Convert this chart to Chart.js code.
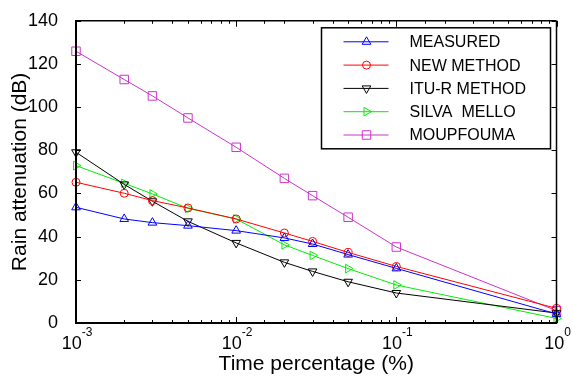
<!DOCTYPE html>
<html><head><meta charset="utf-8">
<script src="https://cdn.jsdelivr.net/npm/chart.js"></script>
<style>html,body{margin:0;padding:0;background:#fff}#wrap{width:572px;height:381px}</style>
</head><body><div id="wrap"><canvas id="c" width="572" height="381"></canvas></div>
<script>
// ---- data ----
const timePct    = [0.001, 0.002, 0.003, 0.005, 0.01, 0.02, 0.03, 0.05, 0.1, 1];
const measured   = [53.6, 48.2, 46.5, 45.1, 42.8, 39.4, 36.6, 31.7, 25.3, 4.2];
const newMethod  = [65.2, 60.1, 56.7, 53.3, 48.2, 41.7, 37.8, 32.7, 26.2, 6.8];
const ituR       = [79.1, 64.2, 56.4, 47.1, 37.1, 28.1, 23.9, 19.1, 13.9, 4.6];
const silvaMello = [72.9, 64.7, 59.8, 53.1, 48.2, 36.2, 31.3, 25.2, 17.6, 2.1];
const moupfouma  = [125.9, 112.8, 105.2, 95.0, 81.4, 67.0, 59.0, 49.0, 35.2, 5.7];
const seriesNames = ['MEASURED', 'NEW METHOD', 'ITU-R METHOD', 'SILVA  MELLO', 'MOUPFOUMA'];
const yMin = 0, yMax = 140, yStep = 20;
const xMin = 0.001, xMax = 1;
const xTitle = 'Time percentage (%)';
const yTitle = 'Rain attenuation (dB)';

const FAM = '"Liberation Sans", Arial, Helvetica, sans-serif';
const styles = [
  {color: '#0000ff', pointStyle: 'triangle', rotation: 0,   radius: 5},
  {color: '#ff0000', pointStyle: 'circle',   rotation: 0,   radius: 4},
  {color: '#000000', pointStyle: 'triangle', rotation: 180, radius: 5},
  {color: '#00ee00', pointStyle: 'triangle', rotation: 90,  radius: 5},
  {color: '#cc33cc', pointStyle: 'rect',     rotation: 0,   radius: 6}
];
const seriesValues = [measured, newMethod, ituR, silvaMello, moupfouma];

const datasets = seriesValues.map((vals, i) => ({
  label: seriesNames[i],
  data: timePct.map((x, j) => ({x: x, y: vals[j]})),
  borderColor: styles[i].color,
  backgroundColor: styles[i].color,
  borderWidth: 1,
  pointStyle: styles[i].pointStyle,
  pointRotation: styles[i].rotation,
  pointRadius: styles[i].radius,
  pointBorderWidth: 1,
  pointBorderColor: styles[i].color,
  pointBackgroundColor: 'rgba(0,0,0,0)',
  tension: 0,
  clip: false
}));

function drawMarker(ctx, style, x, y) {
  const r = style.radius;
  ctx.beginPath();
  if (style.pointStyle === 'circle') {
    ctx.arc(x, y, r, 0, Math.PI * 2);
  } else if (style.pointStyle === 'rect') {
    const s = r * Math.SQRT1_2;
    ctx.rect(x - s, y - s, 2 * s, 2 * s);
  } else {
    let rad = style.rotation * Math.PI / 180;
    for (let k = 0; k < 3; k++) {
      const px = x + Math.sin(rad) * r, py = y - Math.cos(rad) * r;
      if (k === 0) ctx.moveTo(px, py); else ctx.lineTo(px, py);
      rad += 2 * Math.PI / 3;
    }
    ctx.closePath();
  }
  ctx.strokeStyle = style.color;
  ctx.lineWidth = 1;
  ctx.stroke();
}

function seg(ctx, x1, y1, x2, y2) {
  ctx.beginPath(); ctx.moveTo(x1, y1); ctx.lineTo(x2, y2); ctx.stroke();
}

const framePlugin = {
  id: 'frame',
  afterDraw(chart) {
    const ctx = chart.ctx, a = chart.chartArea, xs = chart.scales.x, ys = chart.scales.y;
    ctx.save();
    ctx.strokeStyle = '#000';
    ctx.lineWidth = 1;
    // y ticks (inward, both sides)
    ys.ticks.forEach(t => {
      const py = Math.round(ys.getPixelForValue(t.value)) + 0.5;
      seg(ctx, a.left, py, a.left + 5, py);
      seg(ctx, a.right, py, a.right - 5, py);
    });
    // x ticks (inward, top and bottom)
    xs.ticks.forEach(t => {
      const v = t.value;
      const lg = Math.log10(v);
      const major = Math.abs(lg - Math.round(lg)) < 1e-6;
      const px = Math.round(xs.getPixelForValue(v)) + 0.5;
      const L = major ? 6 : 3;
      seg(ctx, px, a.bottom, px, a.bottom - L);
      seg(ctx, px, a.top, px, a.top + L);
    });
    // frame
    ctx.lineWidth = 1.5;
    seg(ctx, a.left, a.top, a.right, a.top);
    seg(ctx, a.right, a.top, a.right, a.bottom);
    ctx.lineWidth = 2;
    seg(ctx, a.left, a.top - 0.75, a.left, a.bottom + 1);
    seg(ctx, a.left - 1, a.bottom, a.right + 0.75, a.bottom);

    // x tick labels 10^n
    ctx.fillStyle = '#000';
    ctx.textBaseline = 'alphabetic';
    ctx.textAlign = 'left';
    xs.ticks.forEach(t => {
      const v = t.value;
      const lg = Math.log10(v);
      if (Math.abs(lg - Math.round(lg)) >= 1e-6) return;
      const e = String(Math.round(lg));
      const px = xs.getPixelForValue(v);
      ctx.font = '18px ' + FAM;
      const w1 = ctx.measureText('10').width;
      ctx.font = '12px ' + FAM;
      const w2 = ctx.measureText(e).width;
      const x0 = px - (w1 + w2) / 2 + 1;
      ctx.font = '18px ' + FAM;
      ctx.fillText('10', x0, a.bottom + 26);
      ctx.font = '12px ' + FAM;
      ctx.fillText(e, x0 + w1, a.bottom + 13);
    });

    // legend
    const bx = a.right - 235, by = a.top + 7, bw = 229, bh = 121;
    ctx.fillStyle = '#fff';
    ctx.fillRect(bx, by, bw, bh);
    ctx.lineWidth = 1.5;
    ctx.strokeStyle = '#000';
    ctx.strokeRect(bx, by, bw, bh);
    ctx.font = '16px ' + FAM;
    ctx.textBaseline = 'middle';
    seriesNames.forEach((name, i) => {
      const ry = by + 14 + i * 23.3;
      const st = styles[i];
      ctx.strokeStyle = st.color;
      ctx.lineWidth = 1;
      seg(ctx, bx + 22, ry, bx + 67, ry);
      drawMarker(ctx, st, bx + 45, ry);
      ctx.fillStyle = '#000';
      ctx.fillText(name, bx + 88, ry + 1);
    });
    ctx.restore();
  }
};

new Chart(document.getElementById('c'), {
  type: 'line',
  data: {datasets: datasets},
  options: {
    responsive: false,
    animation: false,
    layout: {padding: {left: 0, top: 20, right: 15.5, bottom: 0}},
    plugins: {legend: {display: false}, tooltip: {enabled: false}},
    scales: {
      x: {
        type: 'logarithmic', min: xMin, max: xMax,
        grid: {display: false}, border: {display: false},
        ticks: {display: false},
        title: {display: true, text: xTitle, color: '#000', font: {family: FAM, size: 21}, padding: {top: 0, bottom: 4}},
        afterFit(s) { s.height = 58; }
      },
      y: {
        min: yMin, max: yMax,
        grid: {display: false}, border: {display: false},
        ticks: {stepSize: yStep, color: '#000', font: {family: FAM, size: 18}, padding: 10},
        title: {display: true, text: yTitle, color: '#000', font: {family: FAM, size: 21}, padding: {top: 8, bottom: 0}},
        afterFit(s) { s.width = 76; }
      }
    }
  },
  plugins: [framePlugin]
});
</script>
</body></html>
